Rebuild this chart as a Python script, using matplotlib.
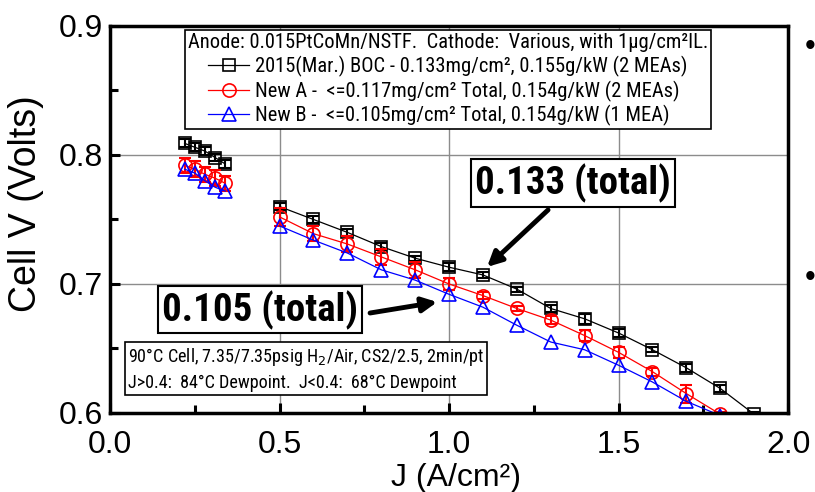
import matplotlib
matplotlib.use("Agg")
import matplotlib.pyplot as plt
from matplotlib import font_manager
from matplotlib.font_manager import FontProperties

# low current points (no line to the high current part)
j_low = [0.22, 0.25, 0.28, 0.31, 0.34]
boc_low = [0.809, 0.806, 0.803, 0.798, 0.793]
newa_low = [0.792, 0.789, 0.785, 0.782, 0.778]
newb_low = [0.789, 0.786, 0.780, 0.775, 0.772]
boc_low_err = [0.003, 0.003, 0.003, 0.003, 0.003]
newa_low_err = [0.006, 0.006, 0.006, 0.006, 0.006]

# high current points
j_boc = [0.5, 0.6, 0.7, 0.8, 0.9, 1.0, 1.1, 1.2, 1.3, 1.4, 1.5, 1.6, 1.7, 1.8, 1.9]
boc = [0.760, 0.750, 0.740, 0.729, 0.720, 0.713, 0.707, 0.696, 0.681, 0.673,
       0.662, 0.649, 0.635, 0.619, 0.599]
boc_err = [0.003, 0.003, 0.003, 0.003, 0.002, 0.003, 0.002, 0.002, 0.003, 0.004,
           0.003, 0.002, 0.003, 0.003, 0.002]
j_new = [0.5, 0.6, 0.7, 0.8, 0.9, 1.0, 1.1, 1.2, 1.3, 1.4, 1.5, 1.6, 1.7, 1.8]
newa = [0.752, 0.739, 0.731, 0.721, 0.711, 0.700, 0.691, 0.681, 0.672, 0.660,
        0.647, 0.632, 0.615, 0.599]
newa_err = [0.007, 0.006, 0.006, 0.006, 0.006, 0.005, 0.003, 0.002, 0.003, 0.004,
            0.004, 0.003, 0.007, 0.002]
newb = [0.745, 0.734, 0.724, 0.711, 0.703, 0.692, 0.682, 0.668, 0.655, 0.649,
        0.637, 0.624, 0.609, 0.598]

labels = ["2015(Mar.) BOC - 0.133mg/cm\u00b2, 0.155g/kW (2 MEAs)",
          "New A -  <=0.117mg/cm\u00b2 Total, 0.154g/kW (2 MEAs)",
          "New B -  <=0.105mg/cm\u00b2 Total, 0.154g/kW (1 MEA)"]
legend_title = "Anode: 0.015PtCoMn/NSTF.  Cathode:  Various, with 1\u03bcg/cm\u00b2IL."
cond_text = ("90\u00b0C Cell, 7.35/7.35psig H$_2$/Air, CS2/2.5, 2min/pt\n"
             "J>0.4:  84\u00b0C Dewpoint.  J<0.4:  68\u00b0C Dewpoint")


def narrow_font(bold, size):
    # look for any installed condensed sans face, fall back to Liberation Sans
    fonts = font_manager.fontManager.ttflist
    want = 700 if bold else 400
    best = None
    for pref in ["Liberation Sans Narrow", "Arial Narrow", "Roboto Condensed",
                 "Open Sans Condensed", "Noto Sans", "DejaVu Sans"]:
        for f in fonts:
            cond = ("Narrow" in f.name or "Condensed" in f.name
                    or str(f.stretch) in ("condensed", "semi-condensed", "extra-condensed"))
            if not cond or pref not in f.name or "Mono" in f.name:
                continue
            if str(f.style) != "normal":
                continue
            w = f.weight if isinstance(f.weight, int) else (700 if "bold" in str(f.weight) else 400)
            if abs(w - want) <= 100:
                best = f.fname
                break
        if best:
            break
    if best:
        return FontProperties(fname=best, size=size), True
    return FontProperties(family="Liberation Sans", weight="bold" if bold else "normal",
                          size=size), False


plt.rcParams['font.family'] = ['Liberation Sans', 'DejaVu Sans']

fig = plt.figure(figsize=(8.15, 4.92), dpi=100)
ax = fig.add_axes([0.135, 0.1606, 0.832, 0.7866])

styles = [("k", "s", 8.5), ("r", "o", 9.5), ("b", "^", 9.5)]
series = [(j_low, boc_low, boc_low_err, j_boc, boc, boc_err),
          (j_low, newa_low, newa_low_err, j_new, newa, newa_err),
          (j_low, newb_low, None, j_new, newb, None)]
handles = []
for (c, m, ms), (xl, yl, el, xh, yh, eh) in zip(styles, series):
    kw = dict(color=c, marker=m, ms=ms, mfc="none", mec=c, mew=1.2, lw=0.9)
    if el is not None:
        ax.errorbar(xl, yl, yerr=el, fmt="none", ecolor=c, elinewidth=1.5, capsize=4, capthick=1.5)
        ax.errorbar(xh, yh, yerr=eh, fmt="none", ecolor=c, elinewidth=1.5, capsize=4, capthick=1.5)
    ax.plot(xl, yl, **kw)
    h, = ax.plot(xh, yh, **kw)
    handles.append(h)

ax.set_xlim(0, 2.0)
ax.set_ylim(0.6, 0.9)
ax.set_xticks([0.0, 0.5, 1.0, 1.5, 2.0])
ax.set_yticks([0.6, 0.7, 0.8, 0.9])
ax.set_xticks([0.25, 0.75, 1.25, 1.75], minor=True)
ax.set_yticks([0.65, 0.75, 0.85], minor=True)
ax.set_xticklabels(["0.0", "0.5", "1.0", "1.5", "2.0"])
ax.set_yticklabels(["0.6", "0.7", "0.8", "0.9"])
ax.tick_params(which="both", direction="in", width=2.2, labelsize=23,
               top=False, right=False)
ax.tick_params(which="major", length=7)
ax.tick_params(which="minor", length=6)
ax.tick_params(axis="x", pad=12)
ax.tick_params(axis="y", pad=5)
for s in ax.spines.values():
    s.set_linewidth(2.5)
ax.grid(True, which="major", color="#8c8c8c", lw=1.0)
ax.set_axisbelow(True)

ax.set_xlabel("J (A/cm\u00b2)", fontsize=23)
ax.set_ylabel("Cell V (Volts)", fontsize=27)
ax.xaxis.set_label_coords(0.51, -0.128)
ax.yaxis.set_label_coords(-0.098, 0.54)

small, is_narrow = narrow_font(False, 14.8)
if not is_narrow:
    small.set_size(12)
leg = ax.legend(handles, labels, title=legend_title, loc="upper center",
                bbox_to_anchor=(0.4985, 0.99), borderaxespad=0,
                frameon=True, fancybox=False, edgecolor="black", framealpha=1,
                borderpad=0.15, labelspacing=0.18, handlelength=2.0, handletextpad=0.3,
                prop=small, title_fontproperties=small)
leg.get_frame().set_linewidth(1.2)

big, big_narrow = narrow_font(True, 28)
if not big_narrow:
    big.set_size(25)
box = dict(boxstyle="square,pad=0.1", fc="white", ec="black", lw=1.5)
ax.text(1.366, 0.7783, "0.133 (total)", fontproperties=big,
        ha="center", va="center", bbox=box)
ax.text(0.4425, 0.680, "0.105 (total)", fontproperties=big,
        ha="center", va="center", bbox=box)
arrow = dict(arrowstyle="-|>", lw=3.5, color="black", mutation_scale=22, shrinkA=0, shrinkB=0)
ax.annotate("", xy=(1.112, 0.7132), xytext=(1.292, 0.7574), arrowprops=arrow)
ax.annotate("", xy=(0.965, 0.686), xytext=(0.767, 0.6775), arrowprops=arrow)

cond, _ = narrow_font(False, 13.1)
if not _:
    cond.set_size(11.5)
ax.text(0.052, 0.634, cond_text, fontproperties=cond, ha="left", va="center",
        linespacing=1.4,
        bbox=dict(boxstyle="square,pad=0.15", fc="white", ec="black", lw=1.2))

fig.text(810 / 815, 1 - 47 / 492, "\u2022", fontsize=22, ha="center", va="center")
fig.text(810 / 815, 1 - 278 / 492, "\u2022", fontsize=22, ha="center", va="center")

fig.savefig("out.png", dpi=100)
